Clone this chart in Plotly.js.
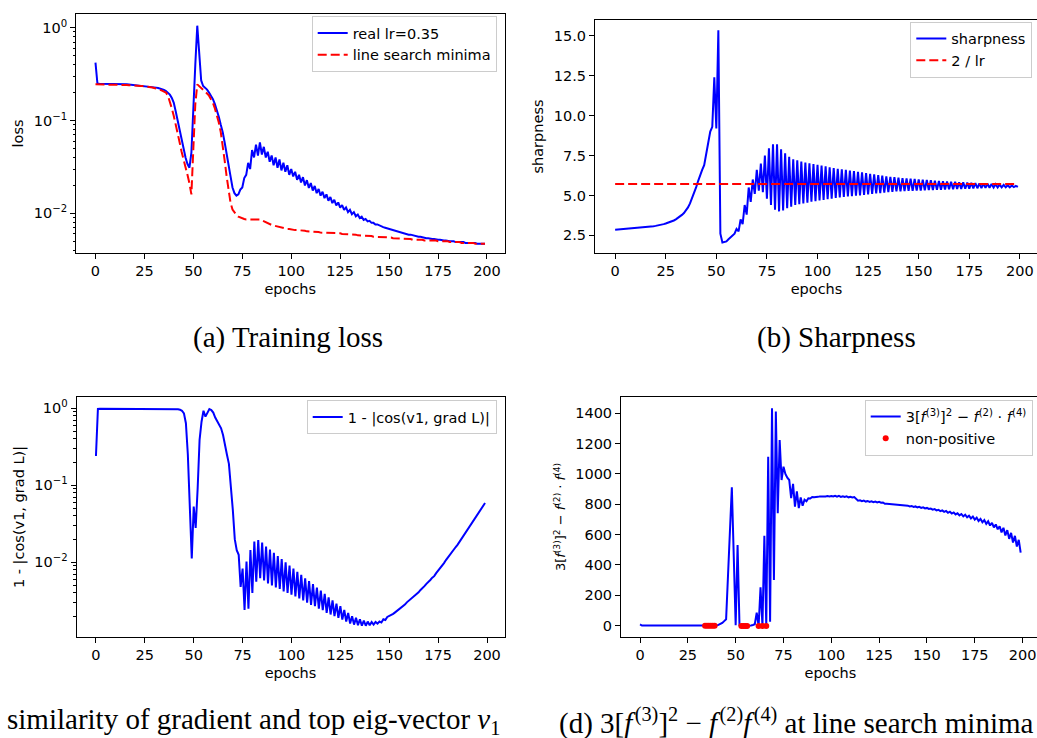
<!DOCTYPE html>
<html>
<head>
<meta charset="utf-8">
<script src="https://cdn.plot.ly/plotly-3.0.1.min.js"></script>
<style>
html, body { margin: 0; padding: 0; overflow: hidden; background: #fff; }
#chart { width: 1045px; height: 738px; }
</style>
</head>
<body>
<div id="chart"></div>
<script>
// ---------------- data ----------------
const epochs = Array.from({length: 200}, (_, i) => i);

const learningRate = 0.35;

const lossReal = [
  0.42, 0.25, 0.249, 0.249, 0.248, 0.248, 0.248, 0.247, 0.247, 0.247,
  0.247, 0.246, 0.246, 0.246, 0.245, 0.245, 0.245, 0.244, 0.243, 0.242,
  0.241, 0.240, 0.239, 0.238, 0.237, 0.236, 0.235, 0.234, 0.232, 0.230,
  0.228, 0.226, 0.224, 0.221, 0.218, 0.214, 0.208, 0.200, 0.190, 0.175,
  0.155, 0.125, 0.098, 0.078, 0.063, 0.050, 0.040, 0.034, 0.031, 0.045,
  0.15, 0.40, 1.05, 0.55, 0.27, 0.235, 0.225, 0.215, 0.200, 0.185,
  0.170, 0.150, 0.130, 0.110, 0.090, 0.075, 0.058, 0.045, 0.035, 0.025,
  0.019, 0.0165, 0.0155, 0.016, 0.018, 0.019, 0.024, 0.026, 0.035, 0.030,
  0.048, 0.040, 0.055, 0.042, 0.058, 0.043, 0.052, 0.040, 0.046, 0.036,
  0.042, 0.033, 0.040, 0.031, 0.038, 0.029, 0.035, 0.028, 0.033, 0.026,
  0.030, 0.025, 0.028, 0.023, 0.026, 0.0215, 0.0245, 0.020, 0.0228, 0.0188,
  0.0212, 0.0176, 0.0197, 0.0165, 0.0183, 0.0155, 0.0171, 0.0146, 0.0160, 0.0137,
  0.0150, 0.0129, 0.0140, 0.0122, 0.0131, 0.0115, 0.0123, 0.0109, 0.0116, 0.0103,
  0.0109, 0.0098, 0.0103, 0.0093, 0.0097, 0.0089, 0.0092, 0.0085, 0.0087, 0.0082,
  0.0083, 0.0079, 0.0079, 0.0076, 0.0076, 0.0074, 0.0073, 0.0071, 0.0070, 0.0069,
  0.0068, 0.0067, 0.0066, 0.0065, 0.0064, 0.0063, 0.0062, 0.0061, 0.0061, 0.0060,
  0.0059, 0.0059, 0.0058, 0.0057, 0.0057, 0.0056, 0.0056, 0.0055, 0.0055, 0.0054,
  0.0054, 0.0053, 0.0053, 0.0053, 0.0052, 0.0052, 0.0052, 0.0051, 0.0051, 0.0051,
  0.0050, 0.0050, 0.0050, 0.0050, 0.0049, 0.0049, 0.0049, 0.0049, 0.0049, 0.0048,
  0.0048, 0.0048, 0.0048, 0.0048, 0.0048, 0.0047, 0.0047, 0.0047, 0.0047, 0.0047
];

const lossLineSearch = [
  0.245, 0.245, 0.245, 0.245, 0.245, 0.244, 0.244, 0.244, 0.244, 0.243,
  0.243, 0.243, 0.242, 0.242, 0.242, 0.241, 0.241, 0.240, 0.240, 0.239,
  0.238, 0.238, 0.237, 0.236, 0.235, 0.234, 0.233, 0.231, 0.229, 0.227,
  0.224, 0.221, 0.218, 0.214, 0.210, 0.205, 0.200, 0.185, 0.160, 0.135,
  0.112, 0.092, 0.074, 0.058, 0.046, 0.037, 0.031, 0.026, 0.021, 0.016,
  0.05, 0.15, 0.245, 0.235, 0.225, 0.215, 0.205, 0.195, 0.185, 0.170,
  0.155, 0.135, 0.115, 0.095, 0.075, 0.055, 0.037, 0.025, 0.017, 0.013,
  0.011, 0.0102, 0.0096, 0.0092, 0.0090, 0.0088, 0.0087, 0.0086, 0.0086, 0.0086,
  0.0086, 0.0087, 0.0087, 0.0087, 0.0086, 0.0084, 0.0082, 0.0080, 0.0078, 0.0076,
  0.0075, 0.0074, 0.0073, 0.0072, 0.0071, 0.0070, 0.0070, 0.0069, 0.0068, 0.0068,
  0.0067, 0.0067, 0.0066, 0.0066, 0.0066, 0.0065, 0.0065, 0.0065, 0.0064, 0.0064,
  0.0064, 0.0063, 0.0063, 0.0063, 0.0063, 0.0062, 0.0062, 0.0062, 0.0062, 0.0062,
  0.0061, 0.0061, 0.0061, 0.0061, 0.0061, 0.0061, 0.0060, 0.0060, 0.0060, 0.0060,
  0.0059, 0.0059, 0.0059, 0.0059, 0.0058, 0.0058, 0.0058, 0.0058, 0.0057, 0.0057,
  0.0057, 0.0057, 0.0056, 0.0056, 0.0056, 0.0056, 0.0056, 0.0055, 0.0055, 0.0055,
  0.0055, 0.0055, 0.0054, 0.0054, 0.0054, 0.0054, 0.0054, 0.0053, 0.0053, 0.0053,
  0.0053, 0.0053, 0.0052, 0.0052, 0.0052, 0.0052, 0.0052, 0.0052, 0.0051, 0.0051,
  0.0051, 0.0051, 0.0051, 0.0051, 0.0051, 0.0050, 0.0050, 0.0050, 0.0050, 0.0050,
  0.0050, 0.0049, 0.0049, 0.0049, 0.0049, 0.0049, 0.0049, 0.0048, 0.0048, 0.0048,
  0.0048, 0.0048, 0.0048, 0.0048, 0.0047, 0.0047, 0.0047, 0.0047, 0.0047, 0.0047
];

const sharpness = [
  2.85, 2.86, 2.87, 2.88, 2.89, 2.90, 2.90, 2.91, 2.92, 2.93,
  2.94, 2.95, 2.96, 2.97, 2.98, 3.00, 3.01, 3.03, 3.05, 3.07,
  3.09, 3.11, 3.14, 3.17, 3.20, 3.24, 3.28, 3.32, 3.37, 3.43,
  3.50, 3.58, 3.67, 3.78, 3.90, 4.05, 4.25, 4.50, 4.80, 5.15,
  5.50, 5.90, 6.30, 6.60, 6.90, 7.50, 8.30, 9.00, 9.30, 12.40,
  9.20, 15.35, 2.60, 2.05, 2.10, 2.12, 2.25, 2.35, 2.45, 2.60,
  2.90, 2.75, 3.50, 3.20, 4.40, 3.80, 5.50, 4.60, 6.00, 5.10,
  6.60, 5.30, 7.00, 5.20, 7.50, 4.80, 7.95, 4.40, 8.20, 4.10,
  8.20, 4.00, 7.90, 4.05, 7.65, 4.20, 7.43, 4.30, 7.27, 4.40,
  7.20, 4.45, 7.12, 4.50, 7.06, 4.55, 7.02, 4.60, 6.97, 4.64,
  6.92, 4.68, 6.87, 4.72, 6.82, 4.76, 6.77, 4.80, 6.72, 4.84,
  6.67, 4.88, 6.63, 4.91, 6.60, 4.94, 6.56, 4.96, 6.52, 4.98,
  6.48, 5.00, 6.44, 5.03, 6.40, 5.06, 6.36, 5.09, 6.32, 5.12,
  6.28, 5.15, 6.24, 5.18, 6.20, 5.21, 6.17, 5.23, 6.14, 5.25,
  6.11, 5.26, 6.09, 5.27, 6.07, 5.28, 6.05, 5.29, 6.03, 5.30,
  6.01, 5.31, 5.99, 5.32, 5.97, 5.33, 5.95, 5.34, 5.93, 5.35,
  5.91, 5.36, 5.89, 5.37, 5.88, 5.38, 5.86, 5.39, 5.85, 5.40,
  5.83, 5.41, 5.82, 5.42, 5.80, 5.43, 5.79, 5.44, 5.77, 5.45,
  5.76, 5.46, 5.74, 5.47, 5.73, 5.48, 5.71, 5.49, 5.70, 5.50,
  5.68, 5.50, 5.66, 5.51, 5.64, 5.51, 5.62, 5.52, 5.60, 5.53
];

const cosGap = [
  0.24, 0.98, 0.985, 0.985, 0.985, 0.985, 0.985, 0.985, 0.985, 0.985,
  0.985, 0.985, 0.985, 0.985, 0.985, 0.985, 0.985, 0.985, 0.985, 0.985,
  0.985, 0.985, 0.985, 0.985, 0.985, 0.985, 0.985, 0.985, 0.985, 0.985,
  0.985, 0.985, 0.985, 0.985, 0.985, 0.985, 0.985, 0.985, 0.985, 0.985,
  0.985, 0.98, 0.975, 0.96, 0.93, 0.86, 0.64, 0.25, 0.037, 0.0112,
  0.053, 0.028, 0.09, 0.39, 0.67, 0.93, 0.78, 0.90, 0.98, 0.95,
  0.88, 0.76, 0.68, 0.60, 0.55, 0.45, 0.35, 0.25, 0.19, 0.10,
  0.048, 0.02, 0.0144, 0.0125, 0.0048, 0.0083, 0.0024, 0.0102, 0.0025, 0.0144,
  0.0040, 0.0186, 0.0056, 0.0195, 0.0062, 0.018, 0.0058, 0.016, 0.0053, 0.0146,
  0.0050, 0.0133, 0.0047, 0.0121, 0.0045, 0.0110, 0.0042, 0.0100, 0.0040, 0.0091,
  0.0038, 0.0083, 0.0036, 0.0075, 0.0034, 0.0069, 0.0032, 0.0062, 0.0030, 0.0057,
  0.0028, 0.0052, 0.0027, 0.0047, 0.0025, 0.0043, 0.0024, 0.0039, 0.0022, 0.0035,
  0.0021, 0.0032, 0.0020, 0.0029, 0.0019, 0.0027, 0.0018, 0.0024, 0.0017, 0.0022,
  0.0016, 0.0020, 0.00155, 0.0019, 0.00152, 0.00182, 0.0015, 0.00175, 0.0015, 0.0017,
  0.00152, 0.00168, 0.00155, 0.00168, 0.0016, 0.0017, 0.00165, 0.00182, 0.00178, 0.00195,
  0.0020, 0.00209, 0.00214, 0.00224, 0.00234, 0.00245, 0.00257, 0.00269, 0.00282, 0.00302,
  0.00316, 0.00331, 0.00347, 0.00363, 0.0038, 0.00407, 0.00437, 0.00457, 0.0049, 0.00525,
  0.0055, 0.00589, 0.00631, 0.00661, 0.00724, 0.00776, 0.00832, 0.00912, 0.00977, 0.0107,
  0.0115, 0.0123, 0.0135, 0.0145, 0.0158, 0.017, 0.0186, 0.020, 0.0219, 0.0234,
  0.0257, 0.0282, 0.0309, 0.0339, 0.0372, 0.0407, 0.0447, 0.049, 0.0537, 0.0589
];

const derivQuantity = [
  8, 1, 1, 1, 1, 1, 1, 1, 1, 1,
  1, 1, 1, 1, 1, 1, 1, 1, 1, 1,
  1, 1, 1, 1, 1, 1, 1, 1, 1, 1,
  1, 1, 1, 1, -1, -1, -1, -1, -1, -1,
  1, 5, 10, 18, 30, 42, 332, 622, 912, 456,
  3, 532, 1, -2, -2, -2, -2, 1, 2, 5,
  10, 86, -2, 253, -2, 593, -2, 1114, 26, 1433,
  301, 1411, 741, 1224, 960, 1048, 1000, 975, 960, 840,
  935, 785, 885, 775, 845, 790, 830, 820, 840, 838,
  848, 846, 850, 849, 852, 850, 853, 851, 854, 852,
  855, 851, 856, 850, 855, 849, 853, 848, 852, 846,
  850, 845, 848, 838, 824, 826, 820, 824, 818, 822,
  816, 820, 814, 818, 812, 816, 810, 812, 803, 804,
  803, 798, 801, 797, 799, 795, 797, 792, 794, 789,
  791, 786, 789, 783, 786, 780, 783, 776, 780, 773,
  776, 769, 772, 765, 768, 760, 764, 755, 760, 750,
  756, 744, 751, 739, 746, 733, 741, 727, 736, 720,
  731, 714, 725, 707, 719, 699, 712, 690, 704, 681,
  696, 671, 688, 660, 678, 648, 667, 635, 655, 615,
  645, 595, 630, 572, 612, 548, 592, 522, 566, 481
];

const epochTicks = [0, 25, 50, 75, 100, 125, 150, 175, 200];
const logTickVals = [1, 0.1, 0.01];
const logTickText = ['10<sup>0</sup>', '10<sup>\u22121</sup>', '10<sup>\u22122</sup>'];

// ---------------- derived ----------------
const edgeOfStability = epochs.map(() => 2 / learningRate);
const nonPosX = epochs.filter((e, i) => derivQuantity[i] <= 0);
const nonPosY = nonPosX.map(e => derivQuantity[e]);

const minorLog = [];
[0.001, 0.01, 0.1].forEach(d => { for (let k = 2; k <= 9; k++) minorLog.push(d * k); });

// ---------------- layout helpers ----------------
const W = 1045, H = 738;
const px = v => v / W;
const py = v => 1 - v / H;

const BLUE = '#0000ff', RED = '#ff0000';
const FONT = 'DejaVu Sans, sans-serif';
const FS = 14.5;

function baseAxis(extra) {
  return Object.assign({
    showline: true, mirror: true, linecolor: '#000', linewidth: 1,
    ticks: 'outside', ticklen: 5, tickwidth: 1, tickcolor: '#000',
    showgrid: false, zeroline: false,
    tickfont: {family: FONT, size: FS, color: '#000'},
    fixedrange: true
  }, extra);
}
function xAxis(domain, anchor) {
  return baseAxis({
    domain: domain, anchor: anchor, range: [-9.95, 208.95],
    tickmode: 'array', tickvals: epochTicks,
    title: {text: 'epochs', font: {family: FONT, size: FS, color: '#000'}, standoff: 5}
  });
}
function logY(domain, anchor, range, title) {
  return baseAxis({
    domain: domain, anchor: anchor, type: 'log', range: range,
    tickmode: 'array', tickvals: logTickVals, ticktext: logTickText,
    minor: {tickmode: 'array', tickvals: minorLog, ticks: 'outside', ticklen: 2.5, tickwidth: 0.8, tickcolor: '#000'},
    title: {text: title, font: {family: FONT, size: FS, color: '#000'}, standoff: 6}
  });
}
function legendAt(xr, yt) {
  return {
    x: px(xr), y: py(yt), xanchor: 'right', yanchor: 'top',
    bgcolor: 'rgba(255,255,255,0.8)', bordercolor: '#cccccc', borderwidth: 1,
    font: {family: FONT, size: FS, color: '#000'}, tracegroupgap: 0
  };
}

const fLabel = '3[<i>f</i><sup>(3)</sup>]<sup>2</sup> \u2212 <i>f</i><sup>(2)</sup> \u00b7 <i>f</i><sup>(4)</sup>';
const fCaption = '3[<i>f</i>\u200a<sup>(3)</sup>]<sup>2</sup> \u2212 <i>f</i>\u200a<sup>(2)</sup><i>f</i>\u200a<sup>(4)</sup>';

const traces = [
  {x: epochs, y: lossReal, xaxis: 'x', yaxis: 'y', mode: 'lines', name: 'real lr=0.35',
   line: {color: BLUE, width: 2}, legend: 'legend'},
  {x: epochs, y: lossLineSearch, xaxis: 'x', yaxis: 'y', mode: 'lines', name: 'line search minima',
   line: {color: RED, width: 2, dash: '9px,4px'}, legend: 'legend'},
  {x: epochs, y: sharpness, xaxis: 'x2', yaxis: 'y2', mode: 'lines', name: 'sharpness',
   line: {color: BLUE, width: 2}, legend: 'legend2'},
  {x: epochs, y: edgeOfStability, xaxis: 'x2', yaxis: 'y2', mode: 'lines', name: '2 / lr',
   line: {color: RED, width: 2, dash: '9px,4px'}, legend: 'legend2'},
  {x: epochs, y: cosGap, xaxis: 'x3', yaxis: 'y3', mode: 'lines', name: '1 - |cos(v1, grad L)|',
   line: {color: BLUE, width: 2}, legend: 'legend3'},
  {x: epochs, y: derivQuantity, xaxis: 'x4', yaxis: 'y4', mode: 'lines', name: fLabel,
   line: {color: BLUE, width: 2}, legend: 'legend4'},
  {x: nonPosX, y: nonPosY, xaxis: 'x4', yaxis: 'y4', mode: 'markers', name: 'non-positive',
   marker: {color: RED, size: 6}, legend: 'legend4'}
];

const capFont = {family: 'Liberation Serif, Times New Roman, serif', size: 29, color: '#000'};

const layout = {
  width: W, height: H,
  margin: {l: 0, r: 0, t: 0, b: 0},
  paper_bgcolor: '#fff', plot_bgcolor: '#fff',
  font: {family: FONT, size: FS, color: '#000'},
  showlegend: true,
  xaxis: xAxis([px(76), px(504.5)], 'y'),
  yaxis: logY([py(253), py(14)], 'x', [-2.427, 0.147], 'loss'),
  xaxis2: xAxis([px(595), px(1038)], 'y2'),
  yaxis2: baseAxis({
    domain: [py(253), py(20)], anchor: 'x2', range: [1.39, 16.0],
    tickmode: 'array', tickvals: [2.5, 5, 7.5, 10, 12.5, 15], tickformat: '.1f',
    title: {text: 'sharpness', font: {family: FONT, size: FS, color: '#000'}, standoff: 6}
  }),
  xaxis3: xAxis([px(76.5), px(504.5)], 'y3'),
  yaxis3: logY([py(637), py(397)], 'x3', [-2.97, 0.147], '1 - |cos(v1, grad L)|'),
  xaxis4: xAxis([px(621), px(1039.7)], 'y4'),
  yaxis4: baseAxis({
    domain: [py(637), py(397)], anchor: 'x4', range: [-74.5, 1507],
    tickmode: 'array', tickvals: [0, 200, 400, 600, 800, 1000, 1200, 1400],
    title: {text: fLabel, font: {family: FONT, size: 13, color: '#000'}, standoff: 6}
  }),
  legend: legendAt(496.7, 16),
  legend2: legendAt(1032.3, 21.5),
  legend3: legendAt(496.7, 400),
  legend4: legendAt(1032.7, 399.5),
  annotations: [
    {text: '(a) Training loss', x: px(288), y: py(338), xref: 'paper', yref: 'paper',
     xanchor: 'center', yanchor: 'middle', showarrow: false, font: capFont},
    {text: '(b) Sharpness', x: px(836), y: py(338), xref: 'paper', yref: 'paper',
     xanchor: 'center', yanchor: 'middle', showarrow: false, font: capFont},
    {text: 'similarity of gradient and top eig-vector <i>v</i><sub>1</sub>', x: px(5), y: py(721), xref: 'paper', yref: 'paper',
     xanchor: 'left', yanchor: 'middle', showarrow: false, font: capFont},
    {text: '(d) ' + fCaption + ' at line search minima',
     x: px(557), y: py(721), xref: 'paper', yref: 'paper',
     xanchor: 'left', yanchor: 'middle', showarrow: false, font: capFont}
  ]
};

Plotly.newPlot('chart', traces, layout, {displayModeBar: false, responsive: false});
</script>
</body>
</html>
